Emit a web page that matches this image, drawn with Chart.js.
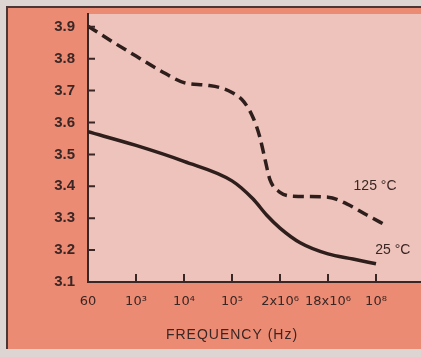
<!DOCTYPE html>
<html><head><meta charset="utf-8">
<script src="https://cdn.jsdelivr.net/npm/chart.js@4"></script>
<style>html,body{margin:0;padding:0;background:#dcd5d2;overflow:hidden}canvas{display:block}</style>
</head><body><canvas id="c" width="421" height="357"></canvas>
<script>
// Category positions along the frequency axis (index units)
const xTickLabels = ["60", "10³", "10⁴", "10⁵", "2x10⁶", "18x10⁶", "10⁸"];
const yTicks = [3.1, 3.2, 3.3, 3.4, 3.5, 3.6, 3.7, 3.8, 3.9];

// 25 °C (solid)
const x25 = [0, 1, 2, 3, 3.44, 3.72, 4, 4.42, 5, 5.52, 6];
const y25 = [3.571, 3.528, 3.478, 3.417, 3.36, 3.31, 3.269, 3.223, 3.188, 3.172, 3.157];
// 125 °C (dashed)
const x125 = [0, 0.5, 1, 1.5, 2, 2.46, 2.76, 3.0, 3.24, 3.44, 3.58, 3.69, 3.79, 4.0, 4.28, 5, 5.39, 5.81, 6.19];
const y125 = [3.902, 3.854, 3.808, 3.763, 3.725, 3.717, 3.709, 3.694, 3.666, 3.615, 3.554, 3.483, 3.421, 3.381, 3.369, 3.366, 3.345, 3.31, 3.279];

const seriesLabels = [
  {text: "125 °C", x: 5.98, y: 3.399},
  {text: "25 °C", x: 6.35, y: 3.201}
];
const axisTitle = "FREQUENCY (Hz)";

const INK = "#3a2624";
const toPts = (xs, ys) => xs.map((x, i) => ({x, y: ys[i]}));

const deco = {
  id: "deco",
  beforeDraw(chart) {
    const ctx = chart.ctx, a = chart.chartArea;
    ctx.save();
    ctx.fillStyle = "#dcd5d2";
    ctx.fillRect(0, 0, chart.width, chart.height);
    ctx.fillStyle = "#ec8b73";
    ctx.fillRect(7, 7, chart.width - 7, 342);
    ctx.fillStyle = "#eec3bb";
    ctx.fillRect(a.left, a.top, a.right - a.left, a.bottom - a.top);
    ctx.strokeStyle = "#4a3634";
    ctx.lineWidth = 2;
    ctx.beginPath();
    ctx.moveTo(7, 349); ctx.lineTo(7, 7); ctx.lineTo(chart.width, 7);
    ctx.stroke();
    ctx.restore();
  },
  afterDraw(chart) {
    const ctx = chart.ctx, xs = chart.scales.x, ys = chart.scales.y;
    ctx.save();
    ctx.strokeStyle = INK;
    ctx.lineWidth = 2;
    ctx.beginPath();
    yTicks.forEach(v => {
      const py = ys.getPixelForValue(v);
      ctx.moveTo(xs.left, py); ctx.lineTo(xs.left + 7, py);
    });
    xTickLabels.forEach((_, i) => {
      const px = xs.getPixelForValue(i);
      ctx.moveTo(px, ys.bottom); ctx.lineTo(px, ys.bottom - 8);
    });
    ctx.stroke();
    ctx.fillStyle = INK;
    ctx.textAlign = "center";
    ctx.textBaseline = "middle";
    ctx.font = "14px 'Liberation Sans', Arial, sans-serif";
    seriesLabels.forEach(l => {
      ctx.fillText(l.text, xs.getPixelForValue(l.x), ys.getPixelForValue(l.y));
    });
    ctx.font = "14px 'Liberation Sans', Arial, sans-serif";
    try { ctx.letterSpacing = "1px"; } catch (e) {}
    ctx.fillText(axisTitle, (xs.getPixelForValue(0) + xs.getPixelForValue(6)) / 2, 335);
    ctx.restore();
  }
};

new Chart(document.getElementById("c"), {
  type: "line",
  data: {
    datasets: [
      {label: "25 °C", data: toPts(x25, y25), borderColor: "#2e1e1c", borderWidth: 3.5,
       pointRadius: 0, cubicInterpolationMode: "monotone", fill: false},
      {label: "125 °C", data: toPts(x125, y125), borderColor: "#2e1e1c", borderWidth: 3.5,
       borderDash: [11, 6], pointRadius: 0, cubicInterpolationMode: "monotone", fill: false}
    ]
  },
  options: {
    responsive: false,
    animation: false,
    devicePixelRatio: 1,
    layout: {padding: {top: 7, left: 0, right: 0, bottom: 0}},
    plugins: {legend: {display: false}, tooltip: {enabled: false}},
    scales: {
      x: {
        type: "linear", min: 0, max: 6.9375,
        afterFit(s) { s.height = 75; },
        afterBuildTicks(s) { s.ticks = xTickLabels.map((_, i) => ({value: i})); },
        grid: {display: false},
        border: {display: true, color: INK, width: 2},
        ticks: {
          autoSkip: false, maxRotation: 0, padding: 4,
          color: INK, font: {family: "'DejaVu Sans', sans-serif", size: 13},
          callback: (v) => xTickLabels[v] ?? ""
        }
      },
      y: {
        type: "linear", min: 3.1, max: 3.94,
        afterFit(s) { s.width = 88; },
        afterBuildTicks(s) { s.ticks = yTicks.map(v => ({value: v})); },
        grid: {display: false},
        border: {display: true, color: INK, width: 2},
        ticks: {
          padding: 5, color: INK,
          font: {family: "'Liberation Sans', Arial, sans-serif", size: 15, weight: "bold"},
          callback: (v) => v.toFixed(1)
        }
      }
    }
  },
  plugins: [deco]
});
</script></body></html>
